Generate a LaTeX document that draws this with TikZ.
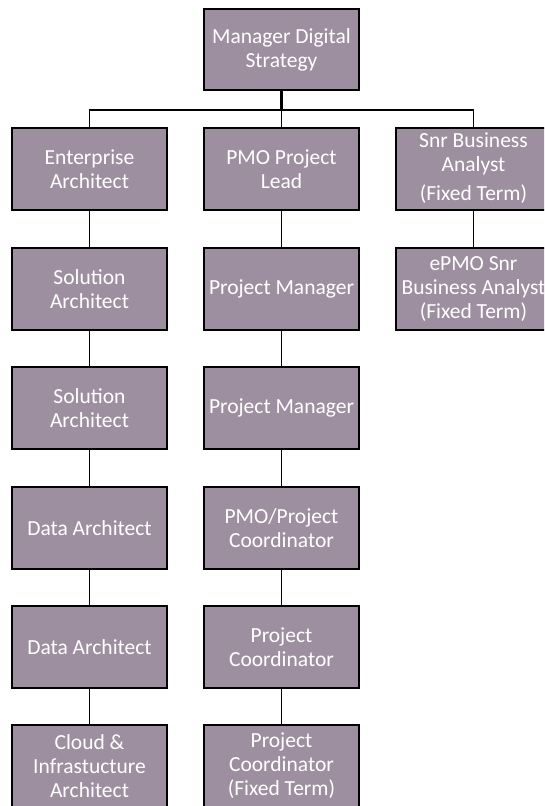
\documentclass[tikz,border=0pt]{standalone}
\usepackage{fontspec}
\setmainfont{Carlito}
\definecolor{boxfill}{RGB}{158,143,160}
\begin{document}
\begin{tikzpicture}[x=1pt,y=-1pt,
  role/.style={draw=black, line width=1.8pt, fill=boxfill,
    minimum width=155pt, minimum height=82pt, inner sep=0pt,
    text=white, align=center, font=\fontsize{21.5}{24}\selectfont},
  head/.style={role, minimum height=81pt, line width=2.2pt},
  link/.style={draw=black, line width=1.5pt},
  stem/.style={draw=black, line width=2.2pt}]
\useasboundingbox (0,0) rectangle (544,806);
\clip (0,0) rectangle (544,806);

% head of the unit
\node[head] (mds) at (281.5,49.5) {Manager Digital\\Strategy};

% architecture stream
\node[role] (ea)  at (89.5,169) {Enterprise\\Architect};
\node[role] (sa1) at (89.5,289) {Solution\\Architect};
\node[role] (sa2) at (89.5,408) {Solution\\Architect};
\node[role] (da1) at (89.5,528) {Data Architect};
\node[role] (da2) at (89.5,647) {Data Architect};
\node[role] (cia) at (89.5,766) {Cloud \&\\Infrastucture\\Architect};

% project management stream
\node[role] (ppl) at (281.5,169) {PMO Project\\Lead};
\node[role] (pm1) at (281.5,289) {Project Manager};
\node[role] (pm2) at (281.5,408) {Project Manager};
\node[role] (ppc) at (281.5,528) {PMO/Project\\Coordinator};
\node[role] (pc1) at (281.5,647) {Project\\Coordinator};
\node[role] (pc2) at (281.5,766) {Project\\Coordinator\\(Fixed Term)};

% business analysis stream
\node[role] (sba) at (473.5,169) {\raisebox{-4.5pt}{\begin{tabular}{@{}c@{}}Snr Business\\Analyst\\[5pt](Fixed Term)\end{tabular}}};
\node[role] (eba) at (473.5,289) {ePMO Snr\\Business Analyst\\(Fixed Term)};

% reporting lines
\coordinate (bus) at (281.5,110);
\draw[stem] (mds.south) -- (bus);
\draw[link] (ea.north) |- (bus) -| (sba.north);
\draw[link] (bus) -- (ppl.north);

\draw[link] (ea.south)  -- (sa1.north);
\draw[link] (sa1.south) -- (sa2.north);
\draw[link] (sa2.south) -- (da1.north);
\draw[link] (da1.south) -- (da2.north);
\draw[link] (da2.south) -- (cia.north);

\draw[link] (ppl.south) -- (pm1.north);
\draw[link] (pm1.south) -- (pm2.north);
\draw[link] (pm2.south) -- (ppc.north);
\draw[link] (ppc.south) -- (pc1.north);
\draw[link] (pc1.south) -- (pc2.north);

\draw[link] (sba.south) -- (eba.north);
\end{tikzpicture}
\end{document}
